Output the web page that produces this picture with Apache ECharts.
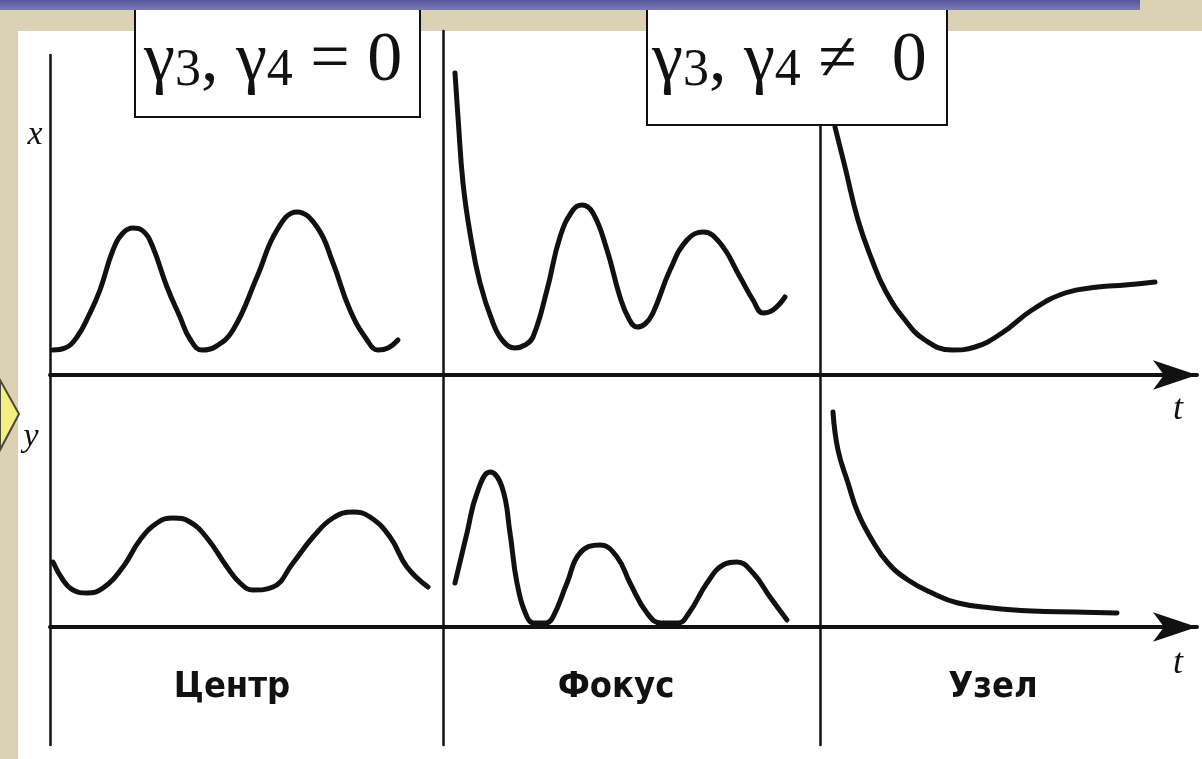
<!DOCTYPE html>
<html>
<head>
<meta charset="utf-8">
<script src="https://cdn.jsdelivr.net/npm/echarts@6/dist/echarts.min.js"></script>
<style>
  html, body { margin: 0; padding: 0; background: #ffffff; }
  #chart { width: 1202px; height: 759px; }
</style>
</head>
<body>
<div id="chart"></div>
<script>
// Time histories x(t), y(t) near three kinds of equilibrium point.
const panelNames = ['Центр', 'Фокус', 'Узел'];
const rowLabels = ['x', 'y'];
const timeLabel = 't';
const conditionLabels = ['γ3, γ4 = 0', 'γ3, γ4 ≠ 0'];

// [t, value] samples, upper row: x(t)
const centerX = [[0.3,2.5],[1.5,2.7],[2.7,3.8],[3.9,6.0],[5.0,8.5],[6.3,12.5],[7.3,14.2],[8.3,14.7],[9.3,14.4],[10.2,13.0],[11.7,8.8],[13.0,5.8],[14.0,3.6],[15.2,2.5],[16.5,2.8],[18.3,4.5],[20.7,9.8],[22.7,14.5],[24.7,16.3],[26.7,14.8],[28.3,11.2],[30.0,6.5],[31.7,3.5],[32.8,2.5],[33.8,2.7],[34.8,3.5]];
const focusX = [[1.2,30.2],[1.5,25.8],[2.0,19.2],[2.7,14.2],[3.7,9.2],[5.0,5.2],[6.0,3.4],[7.2,2.7],[8.2,3.0],[9.0,3.8],[10.4,8.5],[11.7,13.8],[13.0,16.5],[13.9,17.0],[15.0,16.2],[16.4,12.5],[17.7,7.8],[18.6,5.6],[19.4,4.8],[20.2,5.1],[21.0,6.2],[22.7,10.5],[24.4,13.5],[26.0,14.3],[27.7,13.2],[29.7,9.8],[31.0,7.5],[32.0,6.2],[33.0,6.5],[34.2,7.8]];
const nodeX = [[1.5,24.8],[2.5,20.8],[3.8,15.5],[5.2,11.5],[6.5,8.5],[8.5,5.5],[10.5,3.5],[13.2,2.5],[15.5,2.8],[18.2,4.2],[21.2,6.5],[24.5,8.2],[27.8,8.8],[30.5,9.0],[33.5,9.3]];

// [t, value] samples, lower row: y(t)
const centerY = [[0.3,6.5],[1.3,4.7],[2.3,3.7],[3.7,3.4],[5.3,3.9],[7.3,6.0],[9.0,8.7],[10.7,10.4],[12.3,10.9],[14.0,10.5],[15.7,8.9],[17.7,6.0],[19.0,4.4],[20.3,3.7],[22.3,4.0],[24.3,6.4],[26.3,9.0],[28.3,10.9],[30.3,11.5],[32.0,11.0],[34.0,9.0],[35.7,6.0],[37.8,4.0]];
const focusY = [[1.2,4.4],[2.4,9.4],[3.4,13.4],[4.7,15.5],[5.9,14.0],[6.7,9.4],[7.4,4.4],[8.4,1.0],[9.1,0.4],[10.3,0.4],[11.0,1.0],[12.4,4.4],[13.7,7.4],[15.7,8.2],[17.4,7.0],[18.7,4.4],[20.4,1.4],[21.8,0.4],[23.5,0.4],[24.6,1.4],[26.4,4.4],[28.0,6.2],[29.4,6.5],[31.0,5.4],[32.7,3.0],[34.4,0.7]];
const nodeY = [[1.3,21.5],[1.8,17.7],[2.8,14.4],[3.8,11.4],[5.2,8.7],[6.8,6.4],[8.8,4.7],[11.2,3.4],[13.8,2.4],[17.2,1.9],[21.2,1.6],[25.5,1.5],[29.7,1.4]];

const rows = [[centerX, focusX, nodeX], [centerY, focusY, nodeY]];

// panel layout: three columns, two rows
const cols = [
  { left: 50, width: 393, tmax: 39.3, labelX: 232 },
  { left: 443, width: 377, tmax: 37.7, labelX: 616 },
  { left: 820, width: 377, tmax: 37.7, labelX: 993 }
];
const upperTop = [55, 31, 31];
const upperAxisY = 375;
const lowerBottom = 745;
const lowerAxisY = 627;
const unitPx = 10;

const INK = '#111111';
const serif = "'Liberation Serif', 'DejaVu Serif', serif";
const narrow = "'DejaVu Sans Condensed', 'Liberation Sans Narrow', sans-serif";

const grids = [], xAxes = [], yAxes = [], series = [];

for (let r = 0; r < 2; r++) {
  for (let c = 0; c < 3; c++) {
    const idx = r * 3 + c;
    const col = cols[c];
    let top, height, ymin, ymax;
    if (r === 0) {
      top = upperTop[c];
      height = upperAxisY - top;
      ymin = 0;
      ymax = height / unitPx;
    } else {
      top = upperAxisY;
      height = lowerBottom - upperAxisY;
      ymax = (lowerAxisY - upperAxisY) / unitPx;
      ymin = -(lowerBottom - lowerAxisY) / unitPx;
    }
    grids.push({ left: col.left, top: top, width: col.width, height: height,
      containLabel: false, outerBoundsMode: 'none' });
    const isLast = c === 2;
    xAxes.push({
      type: 'value', gridIndex: idx, min: 0, max: col.tmax,
      axisLine: {
        show: true, onZero: true,
        symbol: isLast ? ['none', 'arrow'] : ['none', 'none'],
        symbolSize: [22, 44],
        lineStyle: { color: INK, width: 4 }
      },
      axisTick: { show: false }, axisLabel: { show: false }, splitLine: { show: false }
    });
    yAxes.push({
      type: 'value', gridIndex: idx, min: ymin, max: ymax,
      axisLine: { show: true, onZero: false, lineStyle: { color: INK, width: 2.5 } },
      axisTick: { show: false }, axisLabel: { show: false }, splitLine: { show: false }
    });
    series.push({
      type: 'line', xAxisIndex: idx, yAxisIndex: idx,
      data: rows[r][c], smooth: 0.45, symbol: 'none', clip: false,
      lineStyle: { color: INK, width: 5, cap: 'round', join: 'round' },
      z: 3
    });
  }
}

function conditionRich(s) {
  return s.replace(/γ(\d)/g, 'γ{s|$1}');
}

const beige = '#dbd2b6';
const graphic = [
  // frame decoration
  { type: 'rect', shape: { x: 0, y: 0, width: 1202, height: 31 }, style: { fill: beige }, z: 0 },
  { type: 'rect', shape: { x: 0, y: 0, width: 18, height: 759 }, style: { fill: beige }, z: 0 },
  { type: 'rect', shape: { x: 0, y: 0, width: 1140, height: 10 },
    style: { fill: new echarts.graphic.LinearGradient(0, 0, 0, 1, [
      { offset: 0, color: '#56569a' }, { offset: 1, color: '#7b7bb5' }]) }, z: 20 },
  { type: 'polygon', shape: { points: [[0, 380], [19, 414], [0, 450]] },
    style: { fill: '#f4ef84', stroke: '#4a4a3a', lineWidth: 2 }, z: 1 },
  // condition boxes
  { type: 'rect', shape: { x: 135, y: 9, width: 285, height: 108 },
    style: { fill: '#ffffff', stroke: INK, lineWidth: 2 }, z: 10 },
  { type: 'text', x: 144, y: 62, z: 11,
    style: { text: conditionRich(conditionLabels[0]), font: '70px ' + serif, fill: INK,
      verticalAlign: 'middle', align: 'left',
      rich: { s: { fontSize: 52, fontFamily: serif, fill: INK, verticalAlign: 'bottom' } } } },
  { type: 'rect', shape: { x: 647, y: 9, width: 300, height: 116 },
    style: { fill: '#ffffff', stroke: INK, lineWidth: 2 }, z: 10 },
  { type: 'text', x: 652, y: 62, z: 11,
    style: { text: conditionRich(conditionLabels[1]).replace(' ≠ ', ' ≠  '), font: '70px ' + serif, fill: INK,
      verticalAlign: 'middle', align: 'left',
      rich: { s: { fontSize: 52, fontFamily: serif, fill: INK, verticalAlign: 'bottom' } } } },
  // axis letters
  { type: 'text', x: 35, y: 135, z: 11,
    style: { text: rowLabels[0], font: 'italic 34px ' + serif, fill: INK, align: 'center', verticalAlign: 'middle' } },
  { type: 'text', x: 31, y: 437, z: 11,
    style: { text: rowLabels[1], font: 'italic 34px ' + serif, fill: INK, align: 'center', verticalAlign: 'middle' } },
  { type: 'text', x: 1178, y: 410, z: 11,
    style: { text: timeLabel, font: 'italic 36px ' + serif, fill: INK, align: 'center', verticalAlign: 'middle' } },
  { type: 'text', x: 1178, y: 664, z: 11,
    style: { text: timeLabel, font: 'italic 36px ' + serif, fill: INK, align: 'center', verticalAlign: 'middle' } }
];

// panel captions under the lower axis
panelNames.forEach(function (name, c) {
  graphic.push({ type: 'text', x: cols[c].labelX, y: 688, z: 11,
    style: { text: name, font: 'bold 36px ' + narrow, fill: INK, align: 'center', verticalAlign: 'middle' } });
});

const chart = echarts.init(document.getElementById('chart'), null, { renderer: 'canvas' });
chart.setOption({
  backgroundColor: '#ffffff',
  animation: false,
  grid: grids,
  xAxis: xAxes,
  yAxis: yAxes,
  series: series,
  graphic: graphic
});
</script>
</body>
</html>
